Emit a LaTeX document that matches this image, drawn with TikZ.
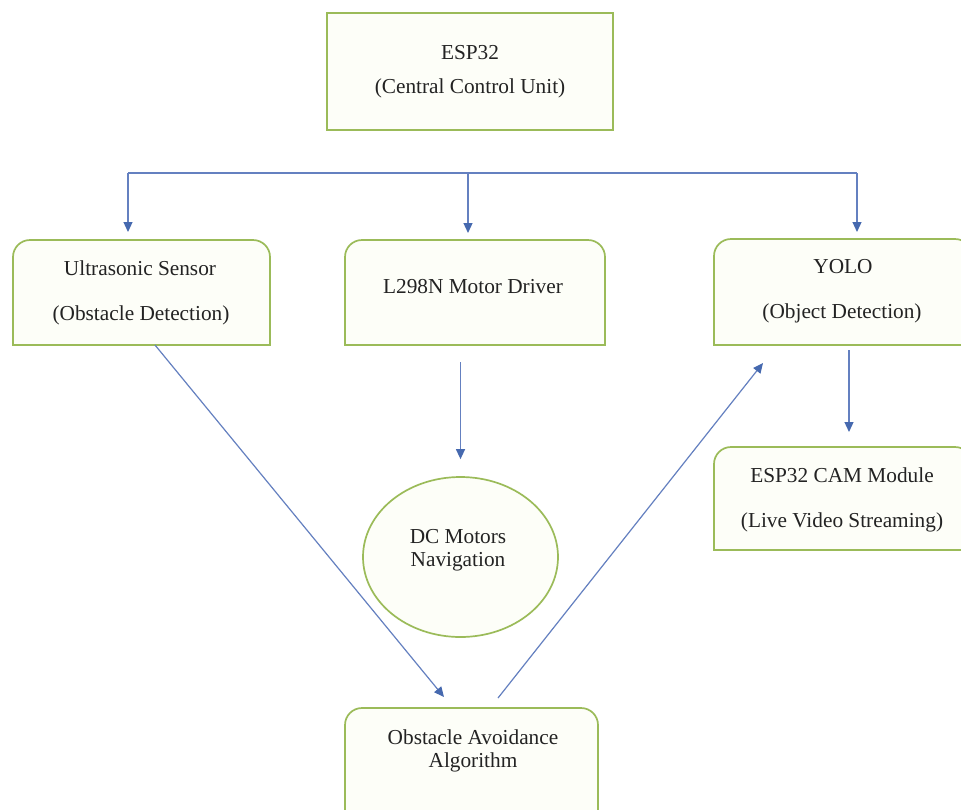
\documentclass[tikz,border=0pt]{standalone}
\usepackage{fontspec}
\setmainfont{Liberation Serif}
\usetikzlibrary{arrows.meta,shapes.geometric,calc}
\definecolor{boxgreen}{RGB}{155,187,89}
\definecolor{linkblue}{RGB}{100,128,192}
\definecolor{tipblue}{RGB}{70,105,175}
\definecolor{boxfill}{RGB}{253,254,248}
\definecolor{txt}{RGB}{35,35,35}
\newcommand\topbox[1]{\draw[outline] (#1.south west) [rounded corners=17pt] -- (#1.north west) -- (#1.north east) [sharp corners] -- (#1.south east) -- cycle;}
\begin{document}
\begin{tikzpicture}[x=1pt,y=-1pt,
  anchorbox/.style={rectangle,draw=none,inner sep=0pt,outer sep=0pt},
  outline/.style={draw=boxgreen,line width=1.7pt,fill=boxfill},
  lbl/.style={text=txt,font=\fontsize{21.3}{24}\selectfont,inner sep=0pt},
  link/.style={draw=linkblue,line width=1.2pt},
  arr/.style={link,-{Triangle[width=9pt,length=10pt,color=tipblue]}},
]
\useasboundingbox (0,0) rectangle (961,809);
\clip (0,0) rectangle (961,809);
\fill[white] (0,0) rectangle (961,809);

% shapes (anchors)
\node[anchorbox,minimum width=286pt,minimum height=117pt] (esp) at (470,71.5) {};
\node[anchorbox,minimum width=257pt,minimum height=105pt] (us) at (141.5,292.5) {};
\node[anchorbox,minimum width=260pt,minimum height=105pt] (l298) at (475,292.5) {};
\node[anchorbox,minimum width=258pt,minimum height=106pt] (yolo) at (843,292) {};
\node[anchorbox,minimum width=258pt,minimum height=103pt] (cam) at (843,498.5) {};
\node[anchorbox,minimum width=253pt,minimum height=104pt] (oa) at (471.5,760) {};
\node[ellipse,draw=boxgreen,line width=1.7pt,fill=boxfill,inner sep=0pt,
      minimum width=195pt,minimum height=160pt] (dc) at (460.5,557) {};

% outlines
\draw[outline] (esp.south west) rectangle (esp.north east);
\topbox{us}
\topbox{l298}
\topbox{yolo}
\topbox{cam}
\topbox{oa}

% labels
\node[lbl] (t1) at (470,53) {ESP32};
\node[lbl] (t2) at (470,88) {(Central Control Unit)};
\node[lbl] (t3) at (140,268) {Ultrasonic Sensor};
\node[lbl] (t4) at (141,315) {(Obstacle Detection)};
\node[lbl] (t5) at (473,287) {L298N Motor Driver};
\node[lbl] (t6) at (843,267) {YOLO};
\node[lbl] (t7) at (842,313) {(Object Detection)};
\node[lbl] (t8) at (842,475) {ESP32 CAM Module};
\node[lbl] (t9) at (842,522) {(Live Video Streaming)};
\node[lbl] (t10) at (458,537) {DC Motors};
\node[lbl] (t11) at (458,562) {Navigation};
\node[lbl] (t12) at (473,737) {Obstacle Avoidance};
\node[lbl] (t13) at (473,762) {Algorithm};

% connectors
\coordinate (bl) at (128,173);
\coordinate (bm) at (468,173);
\coordinate (br) at (857,173);
\draw[link] (bl) -- (br);
\draw[arr,shorten >=8pt] (bl) -- (bl |- us.north);
\draw[arr,shorten >=7pt] (bm) -- (bm |- l298.north);
\draw[arr,shorten >=7pt] (br) -- (br |- yolo.north);
\draw[arr,shorten <=17pt,shorten >=17pt] (l298.south -| dc.north) -- (dc.north);
\draw[arr,shorten <=5pt,shorten >=15pt] ($(yolo.south)+(6,0)$) -- ($(cam.north)+(6,0)$);
\coordinate (usout) at ($(us.south)+(13.5,0)$);
\coordinate (oain) at (444,697);
\draw[arr] (usout) -- (oain);
\coordinate (oaout) at (498,698);
\coordinate (yoloin) at (763,363);
\draw[arr] (oaout) -- (yoloin);
\end{tikzpicture}
\end{document}
